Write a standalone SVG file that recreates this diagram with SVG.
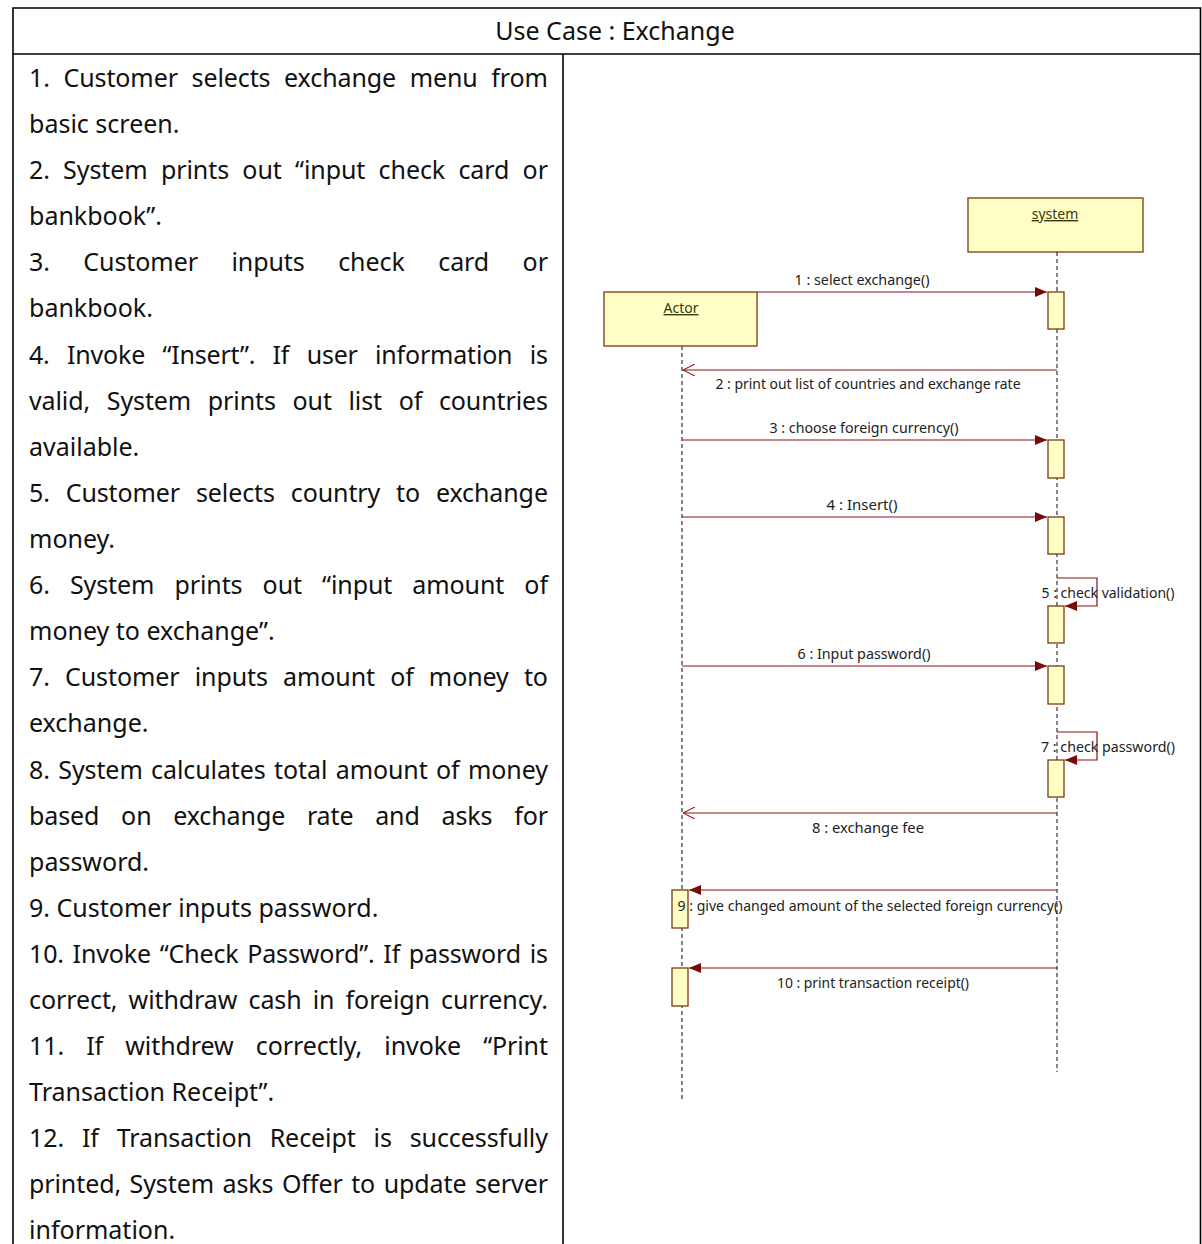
<svg xmlns="http://www.w3.org/2000/svg" width="1202" height="1244" viewBox="0 0 1202 1244">
<style>
.tbl{stroke:#000;stroke-width:1.6;fill:none}
.t{font-family:"Noto Sans","Open Sans",sans-serif;font-size:25px;fill:#111}
.obj{fill:#ffffc6;stroke:#7a3a12;stroke-width:1.3}
.act{fill:#ffffc6;stroke:#7a3a12;stroke-width:1.3}
.ol{font-family:"Noto Sans","Open Sans",sans-serif;font-size:14px;fill:#3a3a10;text-decoration:underline}
.life{stroke:#333;stroke-width:1.2;stroke-dasharray:4,3;fill:none}
.msg{stroke:#8b1010;stroke-width:1.2;fill:none}
.lbl{font-family:"Noto Sans","Open Sans",sans-serif;font-size:14px;fill:#222;text-anchor:middle}
</style>
<defs>
<marker id="af" viewBox="0 0 12 10" refX="12" refY="5" markerWidth="12" markerHeight="10" orient="auto" markerUnits="userSpaceOnUse"><path d="M0,0 L12,5 L0,10 z" fill="#7a0a0a"/></marker>
<marker id="ao" viewBox="0 0 12 12" refX="12" refY="6" markerWidth="12" markerHeight="12" orient="auto" markerUnits="userSpaceOnUse"><path d="M0,0 L12,6 L0,12" fill="none" stroke="#8b1010" stroke-width="1.1"/></marker>
</defs>
<rect width="1202" height="1244" fill="#fff"/>
<g id="table">
<path class="tbl" d="M13,1244 V8 H1200.5 V1244 M13,54 H1200.5 M563,54 V1244"/>
<text class="t" x="615" y="40" text-anchor="middle">Use Case : Exchange</text>
</g>
<g id="steps">
<text class="t" x="29" y="87" style="word-spacing:7.2px" textLength="519" lengthAdjust="spacing">1. Customer selects exchange menu from</text>
<text class="t" x="29" y="133">basic screen.</text>
<text class="t" x="29" y="179" style="word-spacing:6.8px" textLength="519" lengthAdjust="spacing">2. System prints out “input check card or</text>
<text class="t" x="29" y="225">bankbook”.</text>
<text class="t" x="29" y="271" style="word-spacing:27px" textLength="519" lengthAdjust="spacing">3. Customer inputs check card or</text>
<text class="t" x="29" y="317">bankbook.</text>
<text class="t" x="29" y="364" style="word-spacing:11.1px" textLength="519" lengthAdjust="spacing">4. Invoke “Insert”. If user information is</text>
<text class="t" x="29" y="410" style="word-spacing:10.3px" textLength="519" lengthAdjust="spacing">valid, System prints out list of countries</text>
<text class="t" x="29" y="456">available.</text>
<text class="t" x="29" y="502" style="word-spacing:9.5px" textLength="519" lengthAdjust="spacing">5. Customer selects country to exchange</text>
<text class="t" x="29" y="548">money.</text>
<text class="t" x="29" y="594" style="word-spacing:13.7px" textLength="519" lengthAdjust="spacing">6. System prints out “input amount of</text>
<text class="t" x="29" y="640">money to exchange”.</text>
<text class="t" x="29" y="686" style="word-spacing:8.7px" textLength="519" lengthAdjust="spacing">7. Customer inputs amount of money to</text>
<text class="t" x="29" y="732">exchange.</text>
<text class="t" x="29" y="779" style="word-spacing:2px" textLength="519" lengthAdjust="spacing">8. System calculates total amount of money</text>
<text class="t" x="29" y="825" style="word-spacing:15.3px" textLength="519" lengthAdjust="spacing">based on exchange rate and asks for</text>
<text class="t" x="29" y="871">password.</text>
<text class="t" x="29" y="917">9. Customer inputs password.</text>
<text class="t" x="29" y="963" style="word-spacing:2.3px" textLength="519" lengthAdjust="spacing">10. Invoke “Check Password”. If password is</text>
<text class="t" x="29" y="1009" style="word-spacing:4.7px" textLength="519" lengthAdjust="spacing">correct, withdraw cash in foreign currency.</text>
<text class="t" x="29" y="1055" style="word-spacing:15.8px" textLength="519" lengthAdjust="spacing">11. If withdrew correctly, invoke “Print</text>
<text class="t" x="29" y="1101">Transaction Receipt”.</text>
<text class="t" x="29" y="1147" style="word-spacing:11.4px" textLength="519" lengthAdjust="spacing">12. If Transaction Receipt is successfully</text>
<text class="t" x="29" y="1193" style="word-spacing:2.1px" textLength="519" lengthAdjust="spacing">printed, System asks Offer to update server</text>
<text class="t" x="29" y="1239">information.</text>
</g>
<g id="lifelines">
<line class="life" x1="682" y1="346" x2="682" y2="1102"/>
<line class="life" x1="1057" y1="252" x2="1057" y2="1072"/>
</g>
<g id="actor">
<rect class="obj" x="604" y="292" width="153" height="54"/>
<text class="ol" x="681" y="313" text-anchor="middle">Actor</text>
</g>
<g id="system">
<rect class="obj" x="968" y="198" width="175" height="54"/>
<text class="ol" x="1055" y="219" text-anchor="middle">system</text>
</g>
<g id="activations">
<rect class="act" x="1048" y="292" width="16" height="37"/>
<rect class="act" x="1048" y="440" width="16" height="38"/>
<rect class="act" x="1048" y="517" width="16" height="37"/>
<rect class="act" x="1048" y="606" width="16" height="37"/>
<rect class="act" x="1048" y="666" width="16" height="38"/>
<rect class="act" x="1048" y="760" width="16" height="37"/>
<rect class="act" x="672" y="890" width="16" height="38"/>
<rect class="act" x="672" y="968" width="16" height="38"/>
</g>
<g id="connectors">
<line class="msg" x1="757" y1="292" x2="1047" y2="292" marker-end="url(#af)"/>
<line class="msg" x1="1057" y1="370" x2="683" y2="370" marker-end="url(#ao)"/>
<line class="msg" x1="682" y1="440" x2="1047" y2="440" marker-end="url(#af)"/>
<line class="msg" x1="682" y1="517" x2="1047" y2="517" marker-end="url(#af)"/>
<path class="msg" d="M1057,578 H1097 V606 H1065" marker-end="url(#af)"/>
<line class="msg" x1="682" y1="666" x2="1047" y2="666" marker-end="url(#af)"/>
<path class="msg" d="M1057,732 H1097 V760 H1065" marker-end="url(#af)"/>
<line class="msg" x1="1057" y1="813" x2="683" y2="813" marker-end="url(#ao)"/>
<line class="msg" x1="1057" y1="890" x2="689" y2="890" marker-end="url(#af)"/>
<line class="msg" x1="1057" y1="968" x2="689" y2="968" marker-end="url(#af)"/>
</g>
<g id="labels">
<text class="lbl" x="862" y="285" textLength="135" lengthAdjust="spacingAndGlyphs">1 : select exchange()</text>
<text class="lbl" x="868" y="389" textLength="305" lengthAdjust="spacingAndGlyphs">2 : print out list of countries and exchange rate</text>
<text class="lbl" x="864" y="433" textLength="189" lengthAdjust="spacingAndGlyphs">3 : choose foreign currency()</text>
<text class="lbl" x="862" y="510" textLength="71" lengthAdjust="spacingAndGlyphs">4 : Insert()</text>
<text class="lbl" x="1108" y="598" textLength="133" lengthAdjust="spacingAndGlyphs">5 : check validation()</text>
<text class="lbl" x="864" y="659" textLength="133" lengthAdjust="spacingAndGlyphs">6 : Input password()</text>
<text class="lbl" x="1108" y="752" textLength="134" lengthAdjust="spacingAndGlyphs">7 : check password()</text>
<text class="lbl" x="868" y="833" textLength="112" lengthAdjust="spacingAndGlyphs">8 : exchange fee</text>
<text class="lbl" x="870" y="911" textLength="385" lengthAdjust="spacingAndGlyphs">9 : give changed amount of the selected foreign currency()</text>
<text class="lbl" x="873" y="988" textLength="192" lengthAdjust="spacingAndGlyphs">10 : print transaction receipt()</text>
</g>
</svg>
